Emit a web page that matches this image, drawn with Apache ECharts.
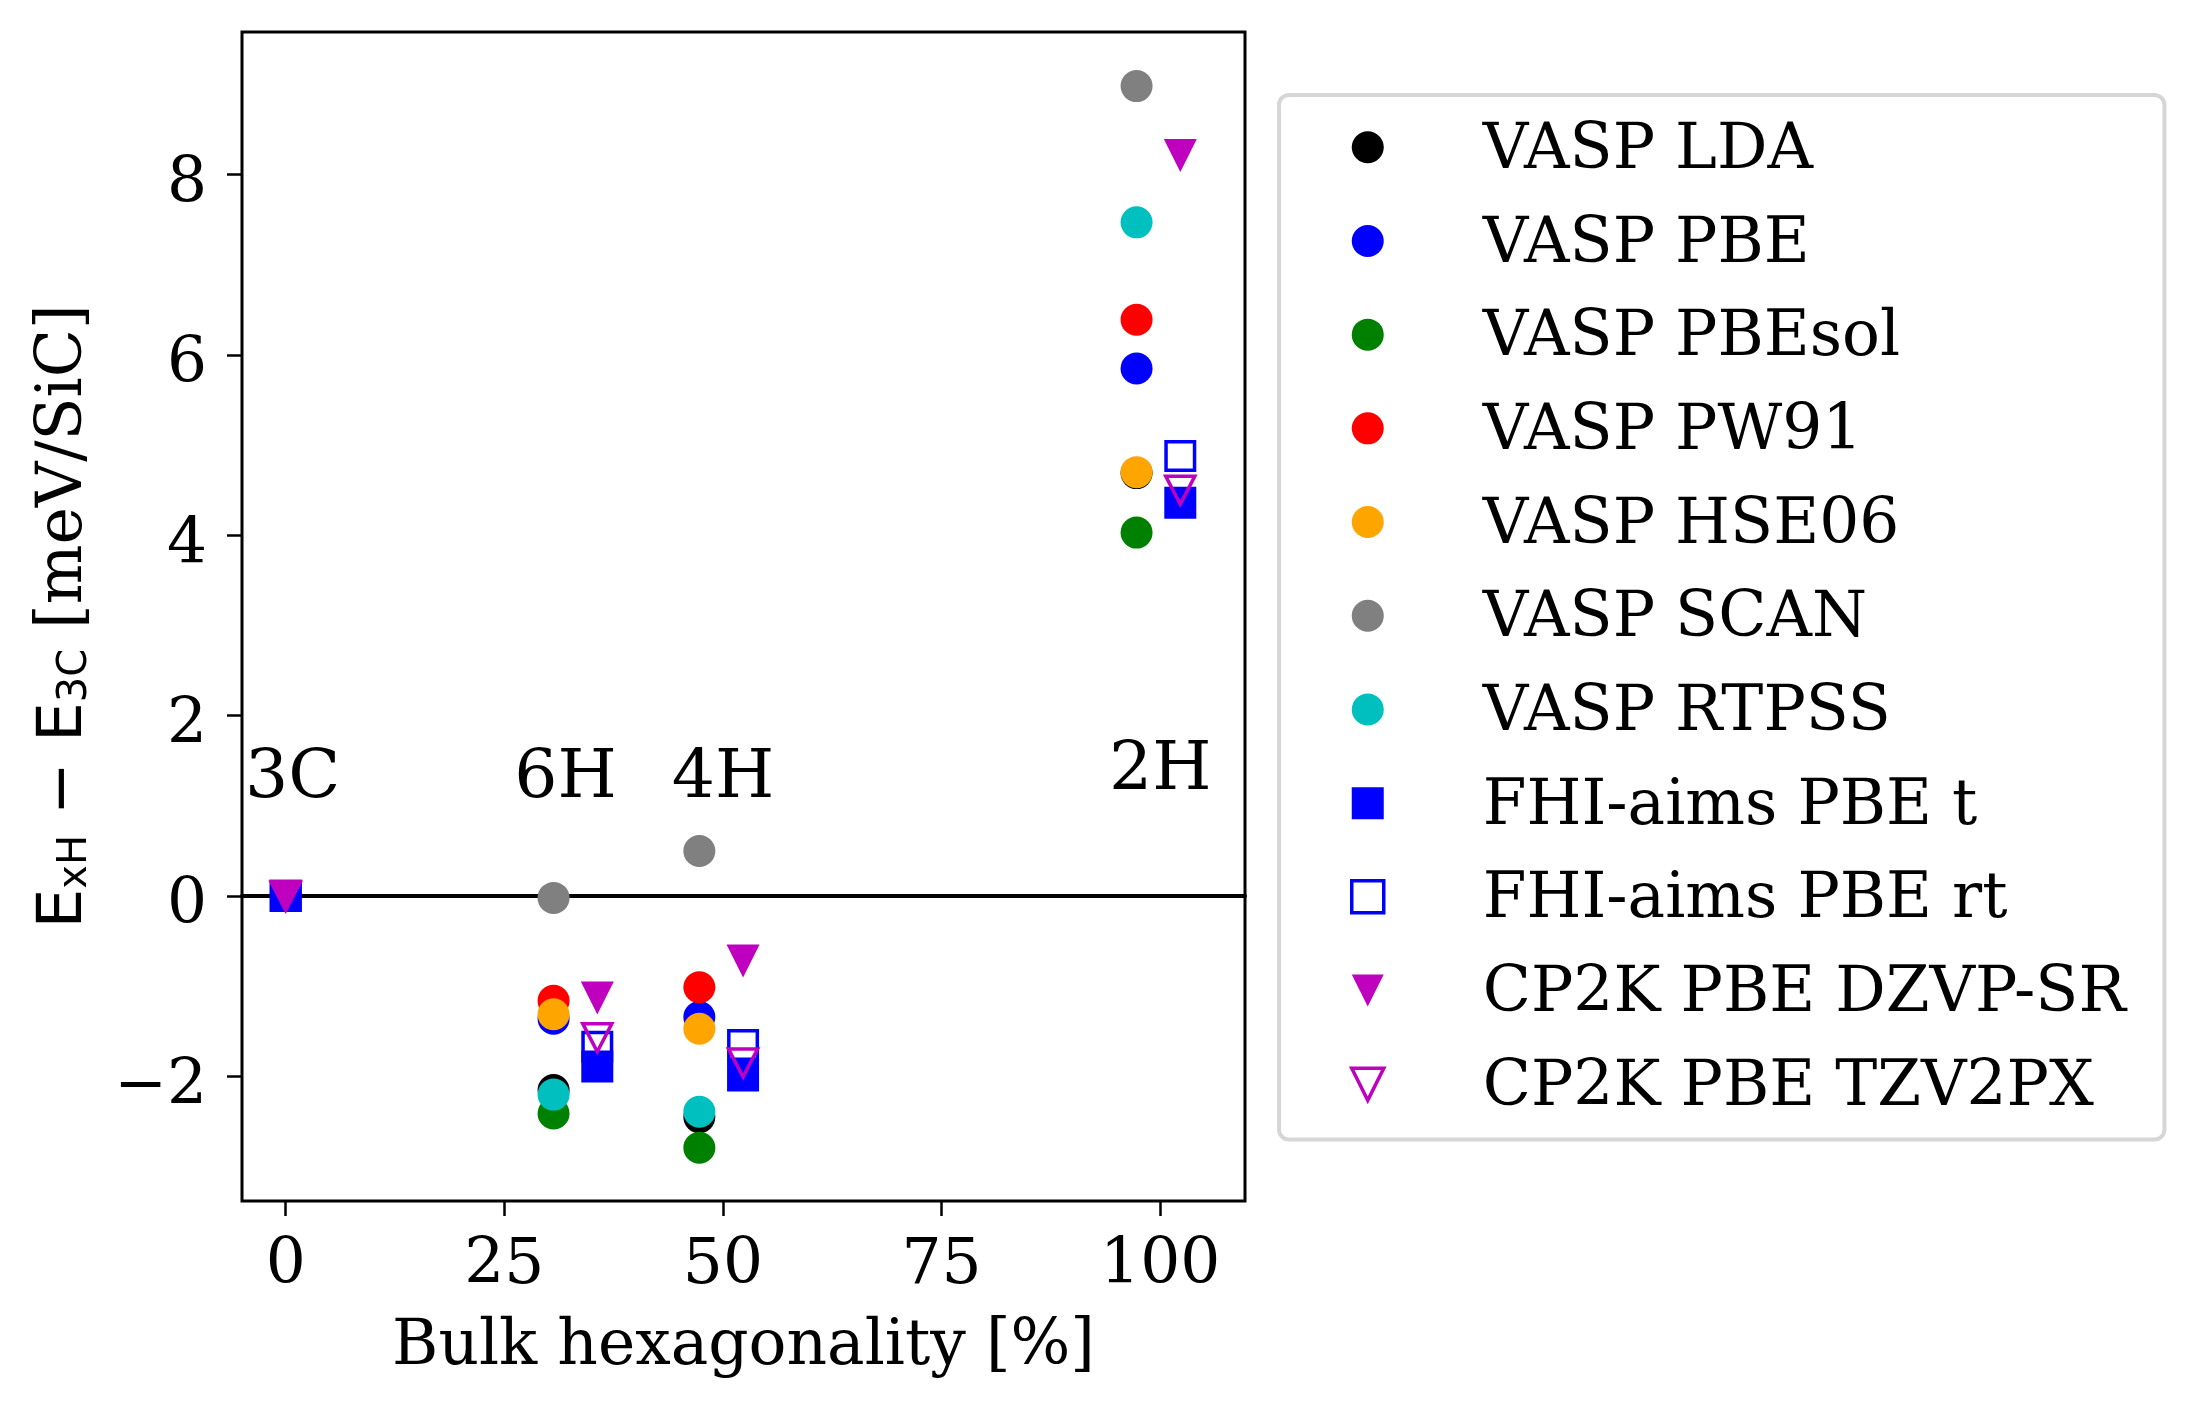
<!DOCTYPE html>
<html>
<head>
<meta charset="utf-8">
<script src="https://cdn.jsdelivr.net/npm/echarts@6/dist/echarts.min.js"></script>
<style>
html,body{margin:0;padding:0;background:#fff;}
#chart{width:2195px;height:1411px;}
</style>
</head>
<body>
<div id="chart"></div>
<script>
// ---- data ----
const polytypes = ['3C', '6H', '4H', '2H'];
const hexagonality = [0, 33.33, 50, 100];
const xTicks = [0, 25, 50, 75, 100];
const yTicks = [-2, 0, 2, 4, 6, 8];

// values per polytype [3C, 6H, 4H, 2H]; null = not shown
const vaspLDA    = [null, -2.15, -2.45, 4.69];
const vaspPBE    = [null, -1.36, -1.34, 5.85];
const vaspPBEsol = [null, -2.41, -2.79, 4.03];
const vaspPW91   = [null, -1.16, -1.01, 6.39];
const vaspHSE06  = [null, -1.31, -1.47, 4.70];
const vaspSCAN   = [null, -0.02,  0.50, 8.98];
const vaspRTPSS  = [null, -2.20, -2.39, 7.47];
const fhiPBEt    = [0, -1.89, -1.99, 4.36];
const fhiPBErt   = [0, -1.67, -1.65, 4.88];
const cp2kDZVP   = [0, -1.13, -0.72, 8.21];
const cp2kTZV2PX = [0, -1.57, -1.85, 4.50];

// annotation anchors (data units)
const annotX = [0.8, 32, 50, 100];
const annotY = [1.29, 1.29, 1.29, 1.38];

// ---- styling / layout ----
const SERIF = 'DejaVu Serif';
const SANS = 'DejaVu Sans';
const X_MIN = -5, X_MAX = 109.7, Y_MIN = -3.38, Y_MAX = 9.58;
const VASP_SHIFT = -2.7, OTHER_SHIFT = 2.3;
const DOWN_TRI = 'path://M0,0L2,0L1,2Z';

function pts(values, shift) {
  const out = [];
  values.forEach((v, i) => {
    if (v === null) return;
    const h = hexagonality[i];
    out.push([h > 0 ? h + shift : h, v]);
  });
  return out;
}

const defs = [
  {name: 'VASP LDA', values: vaspLDA, shift: VASP_SHIFT, kind: 'circle', color: '#000000'},
  {name: 'VASP PBE', values: vaspPBE, shift: VASP_SHIFT, kind: 'circle', color: '#0000ff'},
  {name: 'VASP PBEsol', values: vaspPBEsol, shift: VASP_SHIFT, kind: 'circle', color: '#008000'},
  {name: 'VASP PW91', values: vaspPW91, shift: VASP_SHIFT, kind: 'circle', color: '#ff0000'},
  {name: 'VASP HSE06', values: vaspHSE06, shift: VASP_SHIFT, kind: 'circle', color: '#ffa500'},
  {name: 'VASP SCAN', values: vaspSCAN, shift: VASP_SHIFT, kind: 'circle', color: '#808080'},
  {name: 'VASP RTPSS', values: vaspRTPSS, shift: VASP_SHIFT, kind: 'circle', color: '#00bfbf'},
  {name: 'FHI-aims PBE t', values: fhiPBEt, shift: OTHER_SHIFT, kind: 'square', color: '#0000ff'},
  {name: 'FHI-aims PBE rt', values: fhiPBErt, shift: OTHER_SHIFT, kind: 'squareOpen', color: '#0000ff'},
  {name: 'CP2K PBE DZVP-SR', values: cp2kDZVP, shift: OTHER_SHIFT, kind: 'tri', color: '#bf00bf'},
  {name: 'CP2K PBE TZV2PX', values: cp2kTZV2PX, shift: OTHER_SHIFT, kind: 'triOpen', color: '#bf00bf'}
];

function styleFor(d) {
  switch (d.kind) {
    case 'circle': return {symbol: 'circle', symbolSize: 32, itemStyle: {color: d.color, opacity: 1}};
    case 'square': return {symbol: 'rect', symbolSize: 32, itemStyle: {color: d.color, opacity: 1}};
    case 'squareOpen': return {symbol: 'rect', symbolSize: 28.5, itemStyle: {color: 'rgba(0,0,0,0)', borderColor: d.color, borderWidth: 3.5, opacity: 1}};
    case 'tri': return {symbol: 'triangle', symbolRotate: 180, symbolSize: [33, 33], itemStyle: {color: d.color, opacity: 1}};
    case 'triOpen': return {symbol: 'triangle', symbolRotate: 180, symbolSize: [29, 28], itemStyle: {color: 'rgba(0,0,0,0)', borderColor: d.color, borderWidth: 3.5, borderJoin: 'miter', opacity: 1}};
  }
}

const series = [];
defs.forEach(d => {
  const s = styleFor(d);
  series.push(Object.assign({
    type: 'scatter', name: d.name, z: 3, silent: true,
    emphasis: {disabled: true},
    data: pts(d.values, d.shift)
  }, s));
});
// polytype annotations
series.push({
  type: 'scatter', name: '__annot', z: 4, silent: true, symbolSize: 0.1,
  itemStyle: {color: 'rgba(0,0,0,0)', opacity: 1},
  data: polytypes.map((p, i) => ({value: [annotX[i], annotY[i]], name: p})),
  label: {
    show: true, position: 'inside', formatter: p => p.name,
    fontFamily: SERIF, fontSize: 68, color: '#000', opacity: 1, align: 'center', verticalAlign: 'middle'
  }
});

const legendData = defs.map(d => {
  const item = {
    name: d.name,
    itemStyle: {borderWidth: (d.kind === 'squareOpen' || d.kind === 'triOpen') ? 3.5 : 0, opacity: 1}
  };
  if (d.kind === 'tri' || d.kind === 'triOpen') item.icon = DOWN_TRI;
  return item;
});

const chart = echarts.init(document.getElementById('chart'), null, {renderer: 'canvas'});
chart.setOption({
  animation: false,
  backgroundColor: '#ffffff',
  grid: {
    left: 242, top: 32, right: 950, bottom: 210,
    show: true, borderColor: '#000', borderWidth: 3, backgroundColor: 'rgba(0,0,0,0)',
    containLabel: false, outerBoundsMode: 'none'
  },
  xAxis: [{
    type: 'value', min: X_MIN, max: X_MAX,
    splitLine: {show: false},
    axisLine: {show: false, onZero: false},
    axisTick: {show: true, inside: false, length: 15, lineStyle: {color: '#000', width: 2.5}, customValues: xTicks},
    axisLabel: {
      customValues: xTicks, margin: 34, fontFamily: SERIF, fontSize: 63, color: '#000',
      formatter: v => String(v).replace('-', '\u2212')
    },
    name: 'Bulk hexagonality [%]', nameLocation: 'middle', nameGap: 115, nameMoveOverlap: false,
    nameTextStyle: {fontFamily: SERIF, fontSize: 63, color: '#000', lineHeight: 63}
  }, {
    // horizontal reference line at y = 0
    type: 'value', min: X_MIN, max: X_MAX, position: 'bottom', z: 2,
    splitLine: {show: false},
    axisLine: {show: true, onZero: true, lineStyle: {color: '#000', width: 4}},
    axisTick: {show: false}, axisLabel: {show: false}
  }],
  yAxis: {
    type: 'value', min: Y_MIN, max: Y_MAX,
    splitLine: {show: false},
    axisLine: {show: false, onZero: false},
    axisTick: {show: true, inside: false, length: 15, lineStyle: {color: '#000', width: 2.5}, customValues: yTicks},
    axisLabel: {
      customValues: yTicks, margin: 35, color: '#000',
      formatter: v => '{n|' + String(v).replace('-', '\u2212') + '}',
      rich: {n: {fontFamily: SERIF, fontSize: 63, lineHeight: 63, color: '#000', padding: [22, 0, 0, 0]}}
    },
    name: '{e|E}{s|xH}{e| \u2212 E}{s|3C}{t| [meV/SiC]}',
    nameLocation: 'middle', nameRotate: 90, nameGap: 146, nameMoveOverlap: false,
    nameTextStyle: {
      color: '#000',
      rich: {
        e: {fontFamily: SANS, fontSize: 63, lineHeight: 63, color: '#000'},
        s: {fontFamily: SANS, fontSize: 40, lineHeight: 33, verticalAlign: 'bottom', color: '#000'},
        t: {fontFamily: SERIF, fontSize: 63, lineHeight: 63, color: '#000'}
      }
    }
  },
  legend: {
    show: true, orient: 'vertical', left: 1279, top: 95,
    data: legendData,
    selectedMode: false,
    padding: [16.5, 38, 19.5, 71],
    itemWidth: 32, itemHeight: 32, itemGap: 22.2,
    backgroundColor: '#ffffff', borderColor: '#d6d6d6', borderWidth: 4, borderRadius: 10,
    formatter: name => '{t|' + name + '}{g| }',
    textStyle: {
      fontFamily: SERIF, fontSize: 63, lineHeight: 63, color: '#000', padding: [0, 0, 0, 94],
      rich: {
        t: {fontFamily: SERIF, fontSize: 63, lineHeight: 63, color: '#000', verticalAlign: 'bottom'},
        g: {fontFamily: SERIF, fontSize: 2, lineHeight: 71.5, color: '#000'}
      }
    }
  },
  series: series
});
</script>
</body>
</html>
